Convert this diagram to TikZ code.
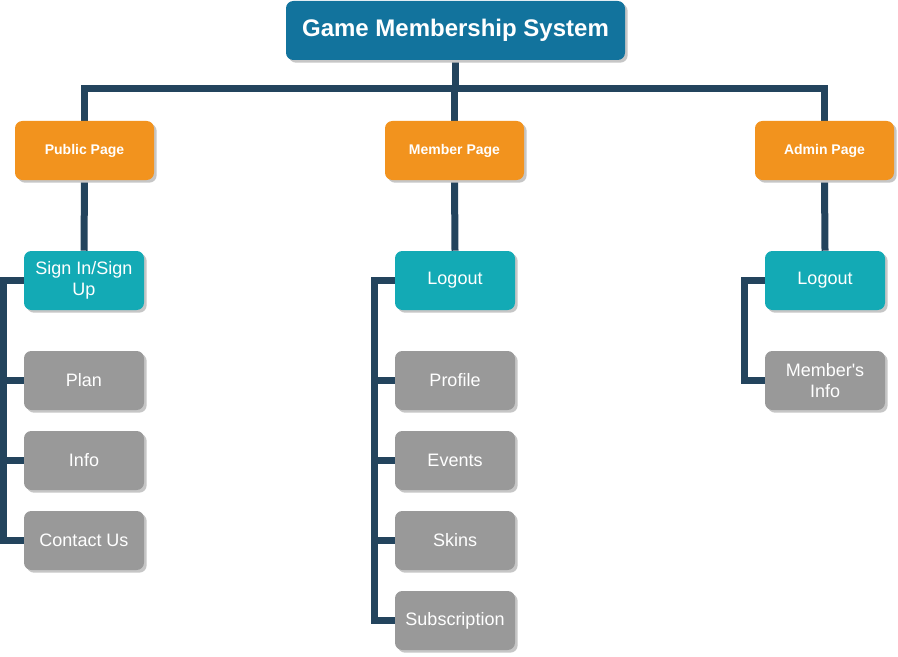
\documentclass[tikz,border=0pt]{standalone}
\usepackage{fontspec}
\setmainfont{Liberation Sans}
\usetikzlibrary{shadows,backgrounds}
\definecolor{titleblue}{HTML}{12739D}
\definecolor{pageorange}{HTML}{F2931E}
\definecolor{tealbox}{HTML}{13AAB5}
\definecolor{graybox}{HTML}{999999}
\definecolor{linenavy}{HTML}{23445D}
\definecolor{shadowgray}{HTML}{C6C6C6}
\tikzset{
  box/.style={rectangle, rounded corners=5.5pt, inner sep=0pt, align=center, text=white,
    drop shadow={shadow xshift=2pt, shadow yshift=-2pt, fill=shadowgray, opacity=1}},
  titlebox/.style={box, fill=titleblue, minimum width=254.25pt, minimum height=44.25pt,
    font=\fontsize{18}{21.5}\selectfont\bfseries},
  pagebox/.style={box, fill=pageorange, minimum width=104.25pt, minimum height=44.25pt,
    font=\fontsize{10.5}{12.5}\selectfont\bfseries},
  navbox/.style={box, fill=tealbox, minimum width=90pt, minimum height=44.25pt,
    font=\fontsize{13.5}{15.75}\selectfont},
  itembox/.style={box, fill=graybox, minimum width=90pt, minimum height=44.25pt,
    font=\fontsize{13.5}{15.75}\selectfont},
  conn/.style={draw=linenavy, line width=5.25pt, line join=miter, line cap=butt}
}
\begin{document}
\begin{tikzpicture}[x=0.75pt, y=-0.75pt]
\useasboundingbox (0,0) rectangle (898,656);
% nodes
\node[titlebox] (title) at (455.5,30.5) {Game Membership System};
\node[pagebox] (pub) at (84.5,150.5) {Public Page};
\node[pagebox] (mem) at (454.5,150.5) {Member Page};
\node[pagebox] (adm) at (824.5,150.5) {Admin Page};
\node[navbox] (sign) at (84,280.5) {Sign In/Sign\\Up};
\node[itembox] (plan) at (84,380.5) {Plan};
\node[itembox] (info) at (84,460.5) {Info};
\node[itembox] (contact) at (84,540.5) {Contact Us};
\node[navbox] (logm) at (455,280.5) {Logout};
\node[itembox] (profile) at (455,380.5) {Profile};
\node[itembox] (events) at (455,460.5) {Events};
\node[itembox] (skins) at (455,540.5) {Skins};
\node[itembox] (subs) at (455,620.5) {Subscription};
\node[navbox] (loga) at (825,280.5) {Logout};
\node[itembox] (minfo) at (825,380.5) {Member\textquotesingle s\\Info};
% bus coordinates
\coordinate (busy) at (0,89);
\coordinate (busl) at (3.5,0);
\coordinate (busm) at (374.5,0);
\coordinate (busa) at (744.5,0);
\begin{scope}[on background layer]
\draw[conn] (title.south) -- (title.south |- busy);
\draw[conn] (pub.north) -- (pub.north |- busy) -- (adm.north |- busy) -- (adm.north);
\draw[conn] (mem.north) -- (mem.north |- busy);
\draw[conn] (pub.south) -- (sign.north);
\draw[conn] (mem.south) -- (logm.north);
\draw[conn] (adm.south) -- (loga.north);
% public column bus
\draw[conn] (sign.west) -- (sign.west -| busl) |- (contact.west);
\draw[conn] (plan.west) -- (plan.west -| busl);
\draw[conn] (info.west) -- (info.west -| busl);
% member column bus
\draw[conn] (logm.west) -- (logm.west -| busm) |- (subs.west);
\draw[conn] (profile.west) -- (profile.west -| busm);
\draw[conn] (events.west) -- (events.west -| busm);
\draw[conn] (skins.west) -- (skins.west -| busm);
% admin column bus
\draw[conn] (loga.west) -- (loga.west -| busa) |- (minfo.west);
\end{scope}
\end{tikzpicture}
\end{document}
